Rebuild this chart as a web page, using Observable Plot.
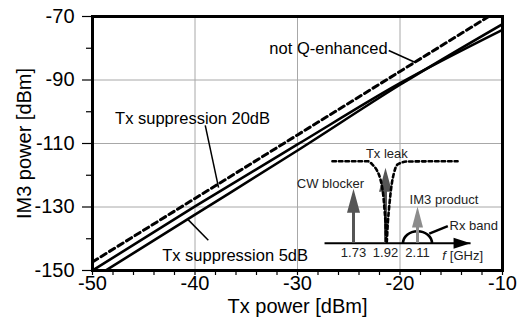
<!DOCTYPE html>
<html><head><meta charset="utf-8">
<script src="https://cdn.jsdelivr.net/npm/d3@7"></script>
<script src="https://cdn.jsdelivr.net/npm/@observablehq/plot@0.6"></script>
<style>
html,body{margin:0;padding:0;background:#fff;}
#wrap{position:relative;width:519px;height:325px;}
#inset{position:absolute;left:300px;top:135px;width:210px;height:135px;}
</style></head><body>
<div id="wrap"><div id="main"></div><div id="inset"></div></div>
<script>
// ---- main chart data ----
const txPower   = [-50, -40, -30, -20, -10];
const im3NotQ   = [-147.3, -127.3, -107.3, -87.3, -67.3];
const im3Supp20 = [-150, -129.8, -110.3, -91.0, -74.2];
const im3Supp5  = [-152.6, -132.4, -112.2, -91.5, -72.4];
const xTicks = [-50, -40, -30, -20, -10];
const xMinorTicks = [-48, -46, -44, -42, -38, -36, -34, -32, -28, -26, -24, -22, -18, -16, -14, -12];
const yTicks = [-150, -130, -110, -90, -70];
const yMinorTicks = [-140, -120, -100, -80];
const xGrid = [-40, -30, -20];
const yGrid = [-130, -110, -90];
const xLabel = "Tx power [dBm]";
const yLabel = "IM3 power [dBm]";
const annoText = ["not Q-enhanced", "Tx suppression 20dB", "Tx suppression 5dB"];
const annoX = [-21.2, -47.8, -43.2];
const annoY = [-80.1, -102.1, -145.3];
const pointerX1 = [-21.1, -39.0, -40.7];
const pointerY1 = [-80.7, -104.3, -133.9];
const pointerX2 = [-18.5, -37.7, -38.7];
const pointerY2 = [-84.5, -123.9, -140.5];

// ---- inset data (frequency in GHz, relative level) ----
const toneNames  = ["CW blocker", "Tx leak", "IM3 product"];
const toneFreqs  = [1.73, 1.92, 2.11];
const toneLevels = [54.4, 75.4, 36.7];
const toneLabelF = [1.593, 1.928, 2.267];
const toneLabelL = [59.5, 89.2, 43.2];
const freqTickLabels = ["1.73", "1.92", "2.11"];
const leakF = [1.605, 1.813, 1.843, 1.870, 1.888, 1.900, 1.908, 1.914, 1.920, 1.926, 1.934, 1.944, 1.956, 1.970, 1.990, 2.051, 2.348];
const leakL = [82, 82, 78.5, 72.5, 65, 56, 46, 34, 21, 0, 21, 40, 58, 70, 78.5, 81.7, 82];
const freqAxisStart = 1.558, freqAxisEnd = 2.425;
const rxBandLabel = "Rx band", rxBandF = 2.11;
const rxLabelF = 2.300, rxLabelL = 17.5;
const rxPointer = {f1: 2.180, l1: 9.5, f2: 2.290, l2: 17};
const unitF = 2.257, unitL = -12.3;

const font = "'Liberation Sans', Arial, Helvetica, sans-serif";
const fmt = d => String(d);

const lineRows = ys => txPower.map((x, i) => ({x, y: ys[i]}));
const annos = annoText.map((t, i) => ({t, x: annoX[i], y: annoY[i]}));
const pointers = pointerX1.map((x1, i) => ({x1, y1: pointerY1[i], x2: pointerX2[i], y2: pointerY2[i]}));

const main = Plot.plot({
  width: 519, height: 325,
  marginLeft: 92, marginRight: 17, marginTop: 16, marginBottom: 55,
  style: {fontFamily: font, background: "white", overflow: "visible", color: "black"},
  x: {domain: [-50, -10], label: null},
  y: {domain: [-150, -70], label: null},
  marks: [
    Plot.gridX(xGrid, {stroke: "#a8a8a8", strokeOpacity: 1, strokeWidth: 1}),
    Plot.gridY(yGrid, {stroke: "#a8a8a8", strokeOpacity: 1, strokeWidth: 1}),
    Plot.line(lineRows(im3NotQ), {x: "x", y: "y", stroke: "black", strokeWidth: 3, strokeDasharray: "6,4", clip: true}),
    Plot.line(lineRows(im3Supp20), {x: "x", y: "y", stroke: "black", strokeWidth: 2.6, curve: "monotone-x", clip: true}),
    Plot.line(lineRows(im3Supp5), {x: "x", y: "y", stroke: "black", strokeWidth: 2.6, curve: "monotone-x", clip: true}),
    Plot.axisX(xMinorTicks, {tickSize: 5, tickFormat: () => "", label: null, strokeWidth: 1.2}),
    Plot.axisX(xTicks, {tickSize: 5, tickPadding: 0, tickFormat: fmt, fontSize: 20, label: null, strokeWidth: 1.2}),
    Plot.axisY(yMinorTicks, {tickSize: 6, tickFormat: () => "", label: null, strokeWidth: 1.2}),
    Plot.axisY(yTicks, {tickSize: 10, tickPadding: 8, tickFormat: fmt, fontSize: 20, label: null, strokeWidth: 1.2}),
    Plot.frame({stroke: "black", strokeWidth: 3}),
    Plot.link(pointers, {x1: "x1", y1: "y1", x2: "x2", y2: "y2", stroke: "black", strokeWidth: 1.5}),
    Plot.text(annos.slice(0, 1), {x: "x", y: "y", text: "t", textAnchor: "end", fontSize: 16.5, fill: "black"}),
    Plot.text(annos.slice(1), {x: "x", y: "y", text: "t", textAnchor: "start", fontSize: 16.5, fill: "black"}),
    Plot.text([xLabel], {frameAnchor: "bottom", lineAnchor: "middle", dy: 36, fontSize: 20, fill: "black"}),
    Plot.text([yLabel], {frameAnchor: "left", textAnchor: "middle", lineAnchor: "middle", dx: -68, rotate: -90, fontSize: 20, fill: "black"})
  ]
});
document.getElementById("main").append(main);

// ---- inset ----
const headUp = (w, h) => ({draw(ctx) { ctx.moveTo(0, 0); ctx.lineTo(w / 2, h); ctx.lineTo(-w / 2, h); ctx.closePath(); }});
const headRight = {draw(ctx) { ctx.moveTo(0, 0); ctx.lineTo(-17, 5.5); ctx.lineTo(-17, -5.5); ctx.closePath(); }};
const halfEllipse = {draw(ctx) {
  const rx = 14.5, ry = 12, k = 0.5523;
  ctx.moveTo(-rx, 0);
  ctx.bezierCurveTo(-rx, -k * ry, -k * rx, -ry, 0, -ry);
  ctx.bezierCurveTo(k * rx, -ry, rx, -k * ry, rx, 0);
}};

const tones = toneNames.map((n, i) => ({n, f: toneFreqs[i], l: toneLevels[i], lf: toneLabelF[i], ll: toneLabelL[i]}));
const darkTones = tones.slice(0, 2);
const im3Tone = tones.slice(2);
const leak = leakF.map((f, i) => ({f, l: leakL[i]}));
const freqTicks = toneFreqs.map((f, i) => ({f, t: freqTickLabels[i]}));

const inset = Plot.plot({
  width: 210, height: 135, margin: 0,
  style: {fontFamily: font, background: "transparent", overflow: "visible", color: "black"},
  x: {domain: [1.73, 2.11], range: [53, 117], axis: null},
  y: {domain: [0, 100], range: [107.7, 7.7], axis: null},
  marks: [
    Plot.link([{a: freqAxisStart, b: freqAxisEnd}], {x1: "a", x2: "b", y1: () => 0, y2: () => 0, stroke: "black", strokeWidth: 2}),
    Plot.dot([{f: freqAxisEnd}], {x: "f", y: () => 0, symbol: headRight, r: 5, fill: "black", stroke: "none"}),
    Plot.dot([{f: rxBandF}], {x: "f", y: () => 0, symbol: halfEllipse, r: 5, fill: "none", stroke: "black", strokeWidth: 2.6}),
    Plot.ruleX(darkTones, {x: "f", y1: "l", y2: () => 0, stroke: "#555", strokeWidth: 3, insetTop: 12}),
    Plot.dot(darkTones, {x: "f", y: "l", symbol: headUp(13, 24), r: 5, fill: "#555", stroke: "none"}),
    Plot.ruleX(im3Tone, {x: "f", y1: "l", y2: () => 0, stroke: "#8c8c8c", strokeWidth: 3, insetTop: 12}),
    Plot.dot(im3Tone, {x: "f", y: "l", symbol: headUp(11, 21), r: 5, fill: "#8c8c8c", stroke: "none"}),
    Plot.line(leak, {x: "f", y: "l", curve: "monotone-x", stroke: "black", strokeWidth: 2.6, strokeDasharray: "3.5,3"}),
    Plot.link([rxPointer], {x1: "f1", y1: "l1", x2: "f2", y2: "l2", stroke: "black", strokeWidth: 2.5}),
    Plot.text(tones, {x: "lf", y: "ll", text: "n", fontSize: 13, fill: "#222"}),
    Plot.text([{t: rxBandLabel}], {x: () => rxLabelF, y: () => rxLabelL, text: "t", textAnchor: "start", fontSize: 13, fill: "#222"}),
    Plot.text(freqTicks, {x: "f", y: () => -9.5, text: "t", fontSize: 13, fill: "#222"}),
    Plot.text([{t: "f"}], {x: () => unitF, y: () => unitL, text: "t", textAnchor: "start", fontSize: 13, fontStyle: "italic", fill: "#222"}),
    Plot.text([{t: "[GHz]"}], {x: () => unitF + 0.045, y: () => unitL, text: "t", textAnchor: "start", fontSize: 13, fill: "#222"})
  ]
});
document.getElementById("inset").append(inset);
</script>
</body></html>
